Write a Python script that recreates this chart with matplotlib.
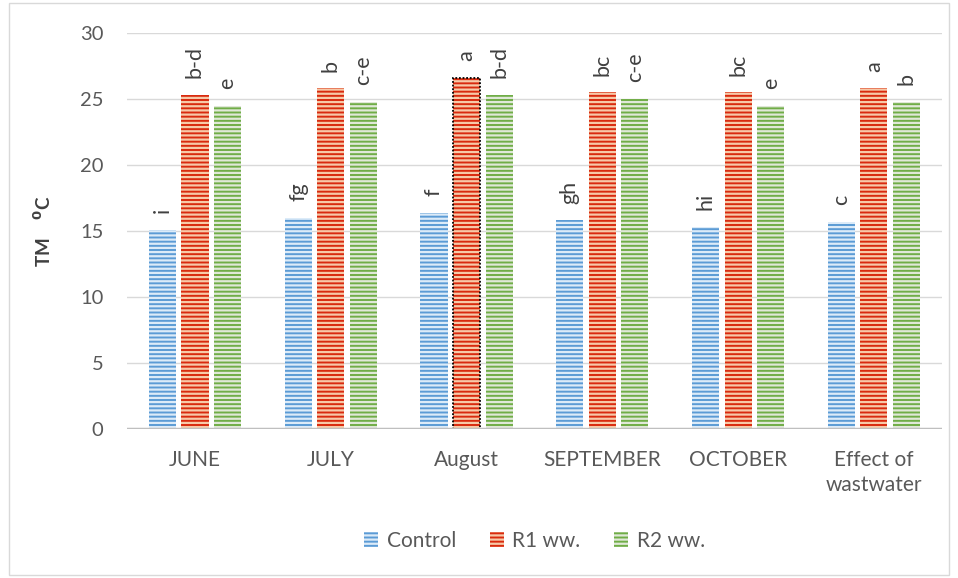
import matplotlib
matplotlib.use("Agg")
import matplotlib.pyplot as plt
from matplotlib.patches import Rectangle
import numpy as np

plt.rcParams['font.family'] = ['Lato', 'DejaVu Sans']
plt.rcParams['hatch.linewidth'] = 1.6

categories = ["JUNE", "JULY", "August", "SEPTEMBER", "OCTOBER", "Effect of\nwastwater"]
series_names = ["Control", "R1 ww.", "R2 ww."]
control = [15.1, 16.0, 16.4, 15.8, 15.3, 15.7]
r1 = [25.3, 25.8, 26.6, 25.5, 25.5, 25.8]
r2 = [24.5, 24.8, 25.3, 25.0, 24.5, 24.8]
control_letters = ["i", "fg", "f", "gh", "hi", "c"]
r1_letters = ["b-d", "b", "a", "bc", "bc", "a"]
r2_letters = ["e", "c-e", "b-d", "c-e", "e", "b"]

colors = ["#5B9BD5", "#D92A0E", "#70AD47"]
hatch_colors = ["#DCEBF8", "#F7C9A8", "#E0E8D8"]

fig = plt.figure(figsize=(9.58, 5.78), dpi=100)
ax = fig.add_axes([0.1326, 0.2578, 0.8505, 0.6851])

x = np.arange(len(categories))
w = 0.2
step = 0.24
data = [control, r1, r2]
letters = [control_letters, r1_letters, r2_letters]
for i, (vals, labs) in enumerate(zip(data, letters)):
    pos = x + (i - 1) * step
    bars = ax.bar(pos, vals, width=w, color=colors[i], edgecolor=hatch_colors[i],
                  linewidth=0, hatch='----', zorder=3, label=series_names[i])
    for b, v, t in zip(bars, vals, labs):
        ax.annotate(t, (b.get_x() + b.get_width() / 2, v), xytext=(0, 12),
                    textcoords='offset points', rotation=90, ha='center', va='bottom',
                    fontsize=15.5, color='#404040')

# dotted outline on August R1
ax.bar(x[2], r1[2], width=w, fill=False, edgecolor='black', linestyle=(0, (1, 1)),
       linewidth=1.3, zorder=4)

ax.set_xlim(-0.5, len(categories) - 0.5)
ax.set_ylim(0, 30)
ax.set_yticks(range(0, 31, 5))
ax.set_xticks(x)
ax.set_xticklabels(categories, linespacing=1.35)
ax.grid(axis='y', color='#D9D9D9', linewidth=1, zorder=0)
for s in ['top', 'right', 'left', 'bottom']:
    ax.spines[s].set_visible(False)
ax.axhline(0, color='#BFBFBF', linewidth=2.5, zorder=5)
ax.tick_params(axis='x', length=0, labelsize=15, colors='#595959', pad=15)
ax.tick_params(axis='y', length=0, labelsize=14.5, colors='#595959', pad=17)
ax.set_ylabel(r"TM    $^{\mathbf{0}}$C", fontsize=13.5, fontweight='bold', color='#404040', labelpad=19)

leg = ax.legend(loc='center', bbox_to_anchor=(0.5, (578 - 541 - 149) / 396), ncol=3, frameon=False,
                fontsize=15, handlelength=0.7, handleheight=0.7, columnspacing=1.6,
                handletextpad=0.4, labelcolor='#595959')

fig.patches.append(Rectangle((9 / 958, 3 / 578), 940 / 958, 572 / 578, transform=fig.transFigure,
                             fill=False, edgecolor='#D9D9D9', linewidth=1))

fig.savefig("out.png", dpi=100)
